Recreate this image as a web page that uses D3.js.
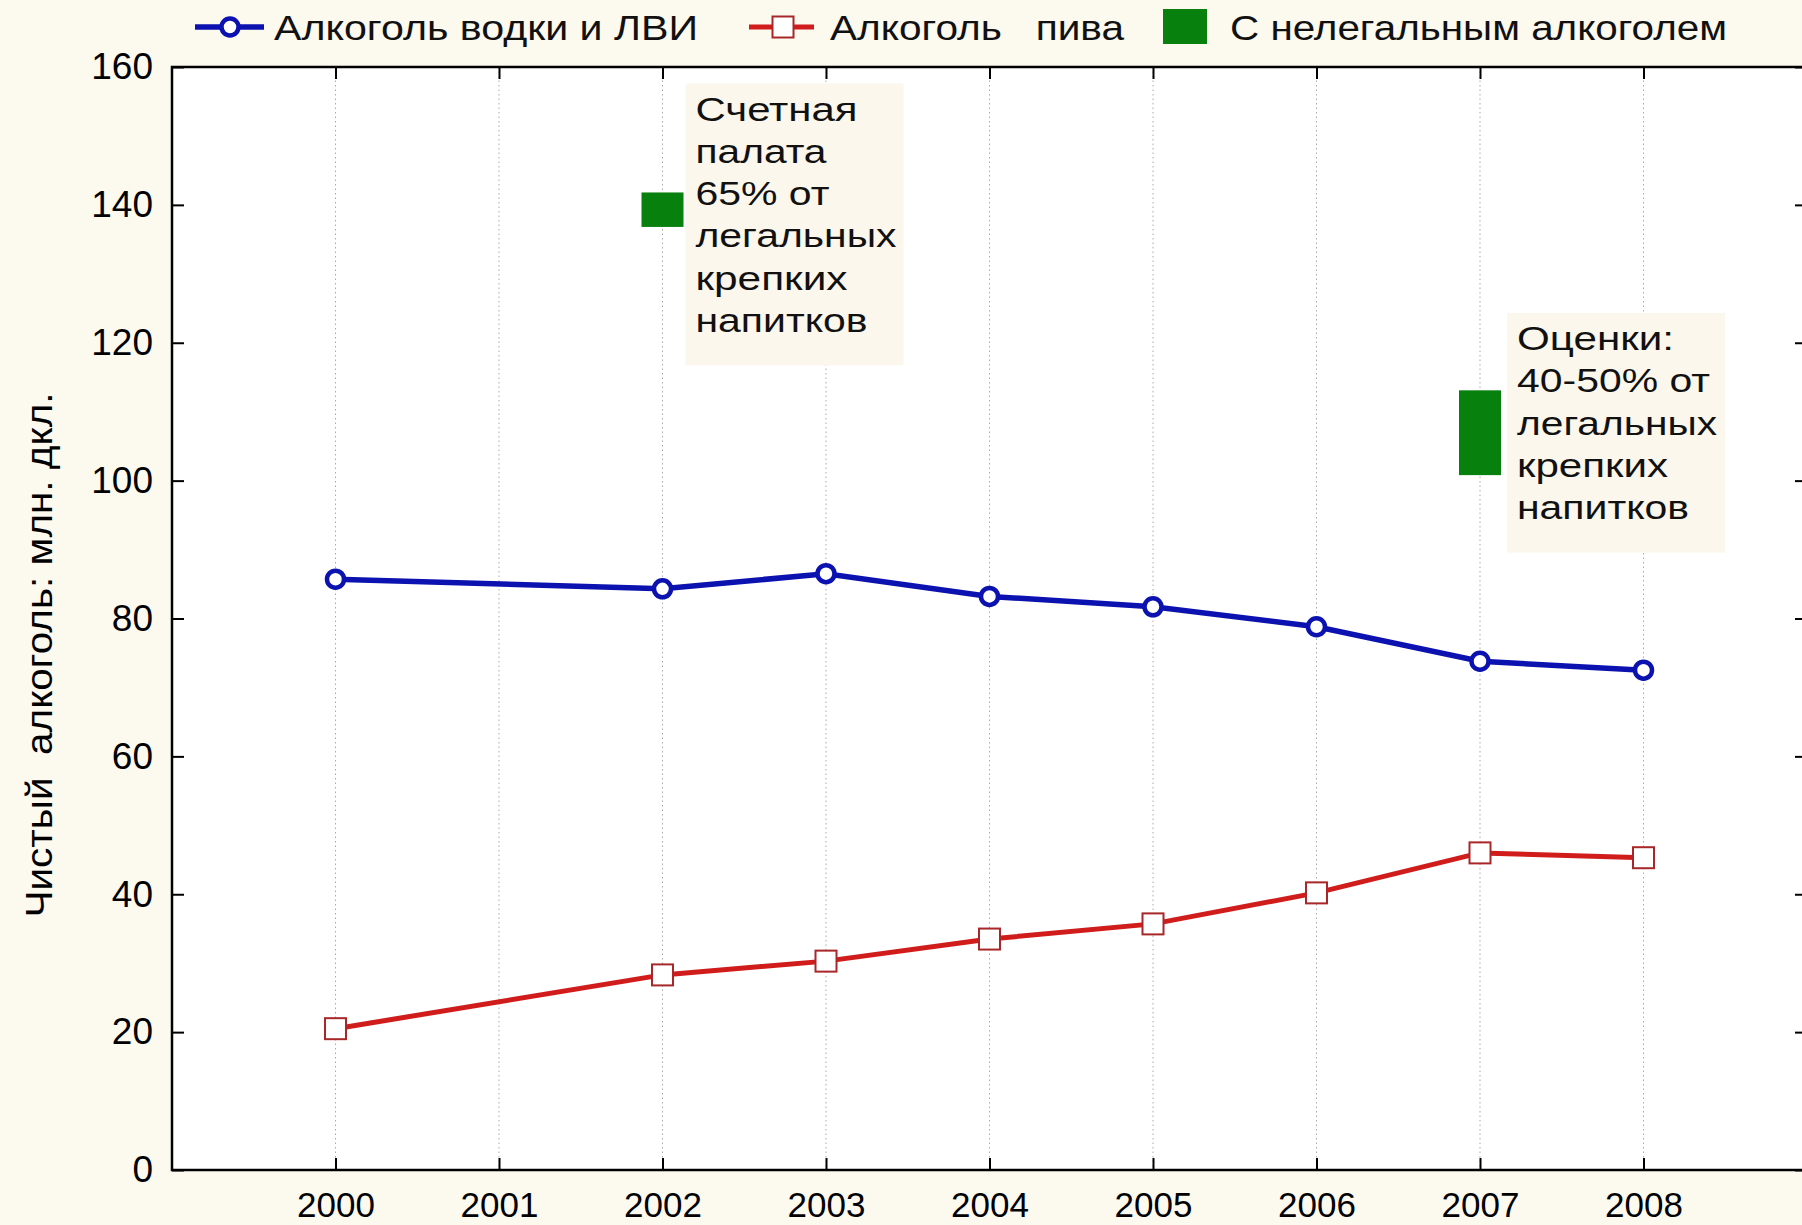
<!DOCTYPE html>
<html lang="ru">
<head>
<meta charset="UTF-8">
<title>Чистый алкоголь</title>
<script src="https://d3js.org/d3.v7.min.js"></script>
<style>
    html, body { margin: 0; padding: 0; background: #fcf9ef; }
    svg { display: block; font-family: "Liberation Sans", Arial, sans-serif; }
</style>
</head>
<body>
<svg width="1802" height="1225"></svg>
<script>
    // data
    var years = [2000, 2002, 2003, 2004, 2005, 2006, 2007, 2008];
    var vodka = [85.7, 84.3, 86.5, 83.2, 81.7, 78.8, 73.8, 72.5];
    var beer = [20.5, 28.3, 30.3, 33.5, 35.7, 40.2, 46.0, 45.3];
    var illegalYears = [2002, 2007];
    var illegalLow = [136.8, 100.8];
    var illegalHigh = [141.8, 113.1];
    var xTicks = [2000, 2001, 2002, 2003, 2004, 2005, 2006, 2007, 2008];
    var yTicks = [0, 20, 40, 60, 80, 100, 120, 140, 160];
    var seriesNames = ["Алкоголь водки и ЛВИ", "Алкоголь   пива", "С нелегальным алкоголем"];
    var note1 = ["Счетная", "палата", "65% от", "легальных", "крепких", "напитков"];
    var note2 = ["Оценки:", "40-50% от", "легальных", "крепких", "напитков"];

    var blue = "#0c12b0", red = "#d11c1c", redEdge = "#a8282a", green = "#08800e";

    var svg = d3.select("svg"),
        plotL = 172, plotR = 1807, plotT = 67, plotB = 1170;

    var x = d3.scaleLinear().domain([1999, 2009]).range([plotL, plotR]);
    var y = d3.scaleLinear().domain([0, 160]).range([plotB, plotT]);

    // plot frame
    svg.append("rect")
        .attr("x", plotL).attr("y", plotT)
        .attr("width", plotR - plotL).attr("height", plotB - plotT)
        .attr("fill", "#fff");

    // dotted grid
    svg.append("g").selectAll("line")
        .data(xTicks)
        .enter().append("line")
        .attr("x1", x).attr("x2", x)
        .attr("y1", plotT).attr("y2", plotB)
        .attr("stroke", "#aaa")
        .attr("stroke-width", 1)
        .attr("stroke-dasharray", "1.5,3");

    // annotation boxes
    function note(lines, x0, y0, w, widths) {
        var g = svg.append("g");
        g.append("rect")
            .attr("x", x0).attr("y", y0)
            .attr("width", w).attr("height", lines.length * 42.3 + 28)
            .attr("fill", "#fbf7ec");
        g.selectAll("text")
            .data(lines)
            .enter().append("text")
            .attr("x", x0 + 10)
            .attr("y", function(d, i) { return y0 + 37 + i * 42.3; })
            .attr("font-size", 34)
            .attr("fill", "#111")
            .attr("textLength", function(d, i) { return widths[i]; })
            .attr("lengthAdjust", "spacingAndGlyphs")
            .text(function(d) { return d; });
    }
    note(note1, x(2002) + 23, y(157.6), 218, [162, 131, 134, 201, 152, 172]);
    note(note2, x(2007) + 27, y(124.3), 218, [157, 193, 200, 151, 172]);

    // illegal alcohol bars
    svg.append("g").selectAll("rect")
        .data(illegalYears)
        .enter().append("rect")
        .attr("x", function(d) { return x(d) - 21; })
        .attr("width", 42)
        .attr("y", function(d, i) { return y(illegalHigh[i]); })
        .attr("height", function(d, i) { return y(illegalLow[i]) - y(illegalHigh[i]); })
        .attr("fill", green);

    // axes
    var axisLeft = svg.append("g")
        .attr("transform", "translate(" + plotL + ",0)")
        .call(d3.axisLeft(y).tickValues(yTicks).tickSize(-12).tickPadding(19));
    var axisBottom = svg.append("g")
        .attr("transform", "translate(0," + plotB + ")")
        .call(d3.axisBottom(x).tickValues(xTicks).tickSize(-12).tickPadding(22).tickFormat(d3.format("d")));
    var axisTop = svg.append("g")
        .attr("transform", "translate(0," + plotT + ")")
        .call(d3.axisTop(x).tickValues(xTicks).tickSize(-12).tickFormat(""));
    var axisRight = svg.append("g")
        .attr("transform", "translate(" + plotR + ",0)")
        .call(d3.axisRight(y).tickValues(yTicks).tickSize(-12).tickFormat(""));

    [axisLeft, axisBottom, axisTop, axisRight].forEach(function(a) {
        a.select(".domain").remove();
        a.selectAll("line").attr("stroke", "#000").attr("stroke-width", 2);
        a.selectAll("text")
            .attr("font-family", "Liberation Sans, Arial, sans-serif")
            .attr("font-size", 37)
            .attr("fill", "#000");
    });
    axisBottom.selectAll("text").attr("font-size", 35);

    svg.append("rect")
        .attr("x", plotL).attr("y", plotT)
        .attr("width", plotR - plotL).attr("height", plotB - plotT)
        .attr("fill", "none")
        .attr("stroke", "#000")
        .attr("stroke-width", 2.5);

    // series lines
    var line = d3.line()
        .x(function(d) { return x(d[0]); })
        .y(function(d) { return y(d[1]); });

    var vodkaPts = years.map(function(yr, i) { return [yr, vodka[i]]; });
    var beerPts = years.map(function(yr, i) { return [yr, beer[i]]; });

    svg.append("path")
        .datum(beerPts)
        .attr("d", line)
        .attr("fill", "none")
        .attr("stroke", red)
        .attr("stroke-width", 5);

    svg.append("g").selectAll("rect")
        .data(beerPts)
        .enter().append("rect")
        .attr("x", function(d) { return x(d[0]) - 10.5; })
        .attr("y", function(d) { return y(d[1]) - 10.5; })
        .attr("width", 21).attr("height", 21)
        .attr("fill", "#fff")
        .attr("stroke", redEdge)
        .attr("stroke-width", 2);

    svg.append("path")
        .datum(vodkaPts)
        .attr("d", line)
        .attr("fill", "none")
        .attr("stroke", blue)
        .attr("stroke-width", 5.5);

    svg.append("g").selectAll("circle")
        .data(vodkaPts)
        .enter().append("circle")
        .attr("cx", function(d) { return x(d[0]); })
        .attr("cy", function(d) { return y(d[1]); })
        .attr("r", 8.5)
        .attr("fill", "#fff")
        .attr("stroke", blue)
        .attr("stroke-width", 4.5);

    // y title
    svg.append("text")
        .attr("transform", "translate(52,655)rotate(-90)")
        .attr("text-anchor", "middle")
        .attr("font-size", 36)
        .attr("textLength", 525)
        .attr("lengthAdjust", "spacingAndGlyphs")
        .style("white-space", "pre")
        .text("Чистый  алкоголь: млн. дкл.");

    // legend
    var legend = svg.append("g");
    legend.append("line")
        .attr("x1", 195).attr("x2", 264).attr("y1", 27).attr("y2", 27)
        .attr("stroke", blue).attr("stroke-width", 5.5);
    legend.append("circle")
        .attr("cx", 230).attr("cy", 27).attr("r", 8.5)
        .attr("fill", "#fff").attr("stroke", blue).attr("stroke-width", 4.5);
    legend.append("line")
        .attr("x1", 749).attr("x2", 814).attr("y1", 27).attr("y2", 27)
        .attr("stroke", red).attr("stroke-width", 5);
    legend.append("rect")
        .attr("x", 772.5).attr("y", 16.5).attr("width", 21).attr("height", 21)
        .attr("fill", "#fff").attr("stroke", redEdge).attr("stroke-width", 2);
    legend.append("rect")
        .attr("x", 1163).attr("y", 9).attr("width", 44).attr("height", 35)
        .attr("fill", green);

    var legendX = [274, 830, 1230], legendW = [424, 294, 497];
    legend.selectAll("text")
        .data(seriesNames)
        .enter().append("text")
        .attr("x", function(d, i) { return legendX[i]; })
        .attr("y", 40)
        .attr("font-size", 35)
        .attr("textLength", function(d, i) { return legendW[i]; })
        .attr("lengthAdjust", "spacingAndGlyphs")
        .style("white-space", "pre")
        .attr("fill", "#111")
        .text(function(d) { return d; });
</script>
</body>
</html>
